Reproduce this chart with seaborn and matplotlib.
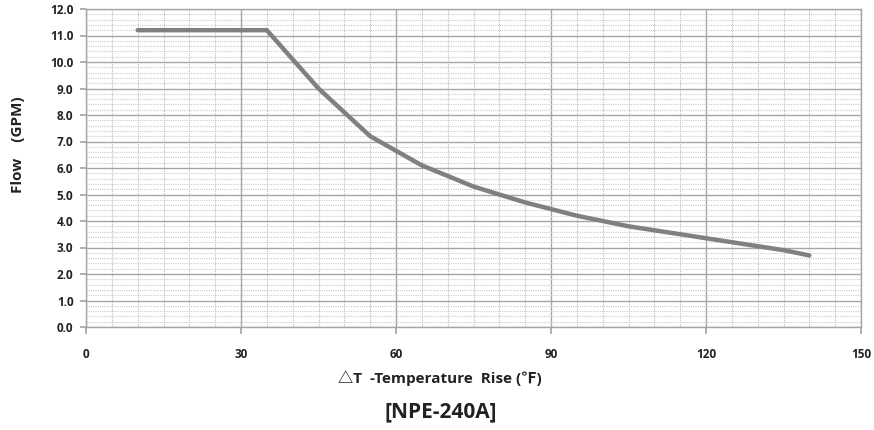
import matplotlib
matplotlib.use("Agg")
import matplotlib.pyplot as plt
from matplotlib.ticker import MultipleLocator
import seaborn as sns
import pandas as pd

temp_rise = [10, 35, 45, 55, 65, 75, 85, 95, 105, 115, 125, 135, 140]
flow_gpm = [11.2, 11.2, 9.0, 7.2, 6.1, 5.3, 4.7, 4.2, 3.8, 3.5, 3.2, 2.9, 2.7]
x_ticks = [0, 30, 60, 90, 120, 150]
title = "[NPE-240A]"
x_label = "△T  -Temperature  Rise (℉)"
y_label = "Flow    (GPM)"

sns.set_theme(style="white")
plt.rcParams['font.family'] = ['Open Sans', 'Noto Sans CJK KR', 'DejaVu Sans']
plt.rcParams['font.weight'] = 'bold'

df = pd.DataFrame({"t": temp_rise, "f": flow_gpm})

fig = plt.figure(figsize=(8.74, 4.30), dpi=100)
ax = fig.add_axes([86/874, 1-327/430, 775/874, 318/430])

ax.set_xlim(0, 150)
ax.set_ylim(0, 12)
ax.set_xticks(x_ticks)
ax.yaxis.set_major_locator(MultipleLocator(1.0))
ax.xaxis.set_minor_locator(MultipleLocator(5))
ax.yaxis.set_minor_locator(MultipleLocator(0.2))
ax.set_yticklabels([f"{v:.1f}" for v in ax.get_yticks()])

ax.grid(which='minor', axis='x', color='#bcbcbc', linestyle=(0, (1, 1)), linewidth=0.8)
ax.grid(which='minor', axis='y', color='#cccccc', linestyle=(0, (1, 1)), linewidth=0.8)
ax.grid(which='major', axis='both', color='#a6a6a6', linestyle='-', linewidth=1.0)
ax.set_axisbelow(True)

sns.lineplot(data=df, x="t", y="f", ax=ax, color='#808080', linewidth=3.2, zorder=5)
ax.set_xlabel('')
ax.set_ylabel('')

for s in ax.spines.values():
    s.set_color('#a6a6a6')
    s.set_linewidth(1.0)

ax.tick_params(axis='x', which='major', length=5, color='#a6a6a6', direction='out', pad=10,
               labelsize=8.5, labelcolor='#222222', bottom=True)
ax.tick_params(axis='y', which='major', length=4, color='#a6a6a6', direction='out', pad=5,
               labelsize=8.5, labelcolor='#222222', left=True)
ax.tick_params(which='minor', length=0)
for lab in ax.get_xticklabels() + ax.get_yticklabels():
    lab.set_fontweight('bold')

fig.text(440/874, 1 - 378/430, x_label, ha='center', va='center',
         fontsize=11, fontweight='bold', color='#222222')
fig.text(18/874, 1 - 145/430, y_label, ha='center', va='center', rotation=90,
         fontsize=11, fontweight='bold', color='#222222')
fig.text(441/874, 1 - 412/430, title, ha='center', va='center',
         fontsize=15, fontweight='bold', color='#222222')

fig.savefig("out.png", dpi=100)
